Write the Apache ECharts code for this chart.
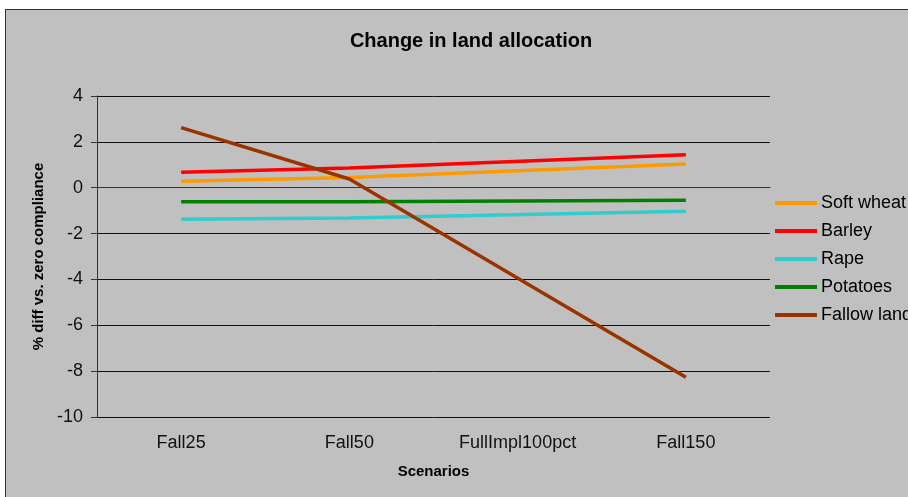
<!DOCTYPE html>
<html>
<head>
<meta charset="utf-8">
<script src="https://cdn.jsdelivr.net/npm/echarts@6/dist/echarts.min.js"></script>
<style>
  body { margin: 0; background: #fff; overflow: hidden; }
  #bg { position: absolute; left: 5px; top: 9px; width: 960px; height: 520px;
        background: #c0c0c0; border-left: 1px solid #333; border-top: 1px solid #333; }
  #main { position: absolute; left: 0; top: 0; width: 908px; height: 497px; }
</style>
</head>
<body>
<div id="bg"></div>
<div id="main"></div>
<script>
// scenario categories
var scenarios = ["Fall25", "Fall50", "FullImpl100pct", "Fall150"];
// % diff vs. zero compliance (no value for FullImpl100pct)
var softWheat = [0.28, 0.45, null, 1.03];
var barley = [0.67, 0.86, null, 1.44];
var rape = [-1.38, -1.32, null, -1.03];
var potatoes = [-0.61, -0.61, null, -0.55];
var fallowLand = [2.62, 0.38, null, -8.27];

var chart = echarts.init(document.getElementById("main"));

function line(name, data, color) {
  return {
    name: name,
    type: "line",
    data: data,
    connectNulls: true,
    symbol: "none",
    lineStyle: { color: color, width: 3.5 },
    itemStyle: { color: color },
  };
}

chart.setOption({
  backgroundColor: "transparent",
  textStyle: { fontFamily: "Liberation Sans, Arial, sans-serif" },
  title: {
    text: "Change in land allocation",
    left: 466,
    textAlign: "center",
    top: 26,
    textStyle: { fontSize: 20, fontWeight: "bold", color: "#000" },
  },
  legend: {
    orient: "vertical",
    left: 770,
    top: 189,
    icon: "rect",
    itemWidth: 42,
    itemHeight: 4,
    itemGap: 10,
    textStyle: { fontSize: 18, color: "#000", lineHeight: 18, padding: [0, 0, 0, -1] },
    data: ["Soft wheat", "Barley", "Rape", "Potatoes", "Fallow land"],
  },
  grid: { left: 97, right: 138, top: 96, bottom: 80 },
  xAxis: {
    type: "category",
    data: scenarios,
    boundaryGap: true,
    name: "Scenarios",
    nameLocation: "middle",
    nameGap: 47,
    nameTextStyle: { fontSize: 15, fontWeight: "bold", color: "#000" },
    axisLine: { lineStyle: { color: "#333", width: 1 } },
    axisTick: { length: 6, lineStyle: { color: "#333" } },
    axisLabel: { fontSize: 18, color: "#111", margin: 17 },
  },
  yAxis: {
    type: "value",
    min: -10,
    max: 4,
    interval: 2,
    name: "% diff vs. zero compliance",
    nameLocation: "middle",
    nameGap: 51,
    nameTextStyle: { fontSize: 15, fontWeight: "bold", color: "#000" },
    axisLine: { show: true, lineStyle: { color: "#333", width: 1 } },
    axisTick: { show: true, length: 6, lineStyle: { color: "#333" } },
    axisLabel: { fontSize: 18, color: "#111", margin: 14 },
    splitLine: { lineStyle: { color: "#111", width: 1 } },
  },
  series: [
    line("Soft wheat", softWheat, "#ff9900"),
    line("Barley", barley, "#ff0000"),
    line("Rape", rape, "#33cccc"),
    line("Potatoes", potatoes, "#008000"),
    line("Fallow land", fallowLand, "#993300"),
  ],
});
</script>
</body>
</html>
